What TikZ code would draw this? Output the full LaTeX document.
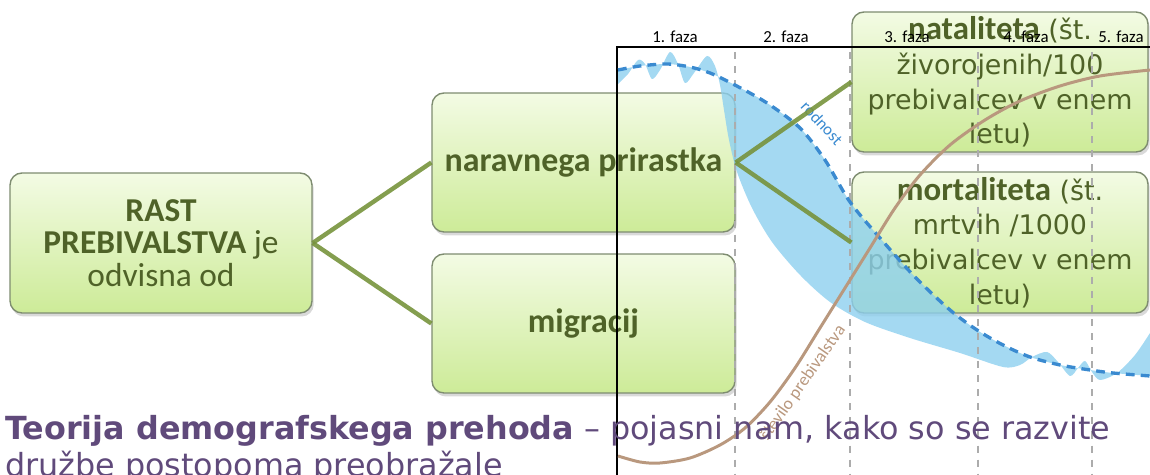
\documentclass[tikz,border=0pt]{standalone}
\usepackage{fontspec}
\setmainfont{Carlito}
\newfontfamily\dejavu{DejaVu Sans}
\usetikzlibrary{shadows}

\definecolor{okvir}{HTML}{7E8C70}
\definecolor{zelentekst}{HTML}{4F6228}
\definecolor{svetlazel}{HTML}{F3FBE4}
\definecolor{temnazel}{HTML}{CDEB98}
\definecolor{povezava}{HTML}{77933C}
\definecolor{modra}{HTML}{8DD0EF}
\definecolor{rodnostmodra}{HTML}{3A8AD0}
\definecolor{rjava}{HTML}{B9987E}
\definecolor{vijolicna}{HTML}{604A7B}

\tikzset{
  okvircek/.style={draw=okvir, line width=0.8pt, rounded corners=6.8pt,
    top color=svetlazel, bottom color=temnazel,
    drop shadow={shadow xshift=1pt, shadow yshift=-2pt, opacity=0.3},
    text=zelentekst, align=center, inner sep=0pt},
  povez/.style={povezava, line width=2.5pt, opacity=0.9},
  fazanapis/.style={font=\fontsize{9.6}{10}\selectfont, anchor=base, inner sep=0pt},
  mejafaze/.style={gray!65, line width=0.8pt, dash pattern=on 4pt off 4pt},
}

\begin{document}
\begin{tikzpicture}[x=0.02cm, y=-0.02cm]  % enota = 1 piksel, y navzdol

    \clip (0,0) rectangle (1150,475);

    % okvirčki
    \node[okvircek, minimum width=6.04cm, minimum height=2.8cm,
          font=\fontsize{19}{18.4}\selectfont] (rast) at (161,243)
          {\textbf{RAST}\\\textbf{PREBIVALSTVA} je\\odvisna od};
    \node[okvircek, minimum width=6.06cm, minimum height=2.78cm,
          font=\bfseries\fontsize{19.3}{22}\selectfont] (narav) at (583.5,162.5) {naravnega prirastka};
    \node[okvircek, minimum width=6.06cm, minimum height=2.78cm,
          font=\bfseries\fontsize{19.3}{22}\selectfont] (migr) at (583.5,323.5) {migracij};
    \node[okvircek, minimum width=5.92cm, minimum height=2.8cm,
          font=\dejavu\fontsize{15.3}{19.8}\selectfont] (natal) at (1000,82)
          {{\rmfamily\bfseries\fontsize{18.7}{19.8}\selectfont nataliteta} (št.\\živorojenih/100\\prebivalcev v enem\\letu)};
    \node[okvircek, minimum width=5.92cm, minimum height=2.82cm,
          font=\dejavu\fontsize{15.3}{19.8}\selectfont] (mort) at (1000,242.5)
          {{\rmfamily\bfseries\fontsize{18.7}{19.8}\selectfont mortaliteta} (št.\\mrtvih /1000\\prebivalcev v enem\\letu)};

    % modro območje med rodnostjo in smrtnostjo
    \fill[modra, opacity=0.8] plot[smooth] coordinates {(618,84) (628,74) (638,60) (645,64) (652,79)
        (660,70) (670,52) (678,64) (685,83) (694,73) (707,56) (715,66) (720,85) (724,110)
        (729,140) (737,172) (752,208) (772,242) (800,275) (830,302) (865,322) (910,338)
        (960,353) (1003,367) (1020,365) (1032,357) (1047,352) (1058,362) (1070,376)
        (1078,368) (1085,361) (1092,372) (1100,380) (1117,373) (1135,355) (1150,333)}
      -- (1160,333) -- (1160,376)
      -- plot[smooth] coordinates {(1150,376) (1113,373) (1090,370) (1060,365) (1030,357)
        (1003,345) (977,330) (950,310) (915,277) (880,238) (850,202) (825,160) (800,128)
        (767,103) (733,84) (710,73) (690,67) (667,64) (640,66) (618,70)} -- cycle;

    % meje faz
    \draw[mejafaze] (735,52) -- (735,480);
    \draw[mejafaze] (850,52) -- (850,480);
    \draw[mejafaze] (978,52) -- (978,480);
    \draw[mejafaze] (1092,52) -- (1092,480);

    % okvir grafa
    \draw[black, line width=0.6pt] (617,480) -- (617,47) -- (1160,47);

    % rodnost (črtkano)
    \draw[rodnostmodra, line width=1.9pt, dash pattern=on 5pt off 3.5pt] plot[smooth] coordinates {(618,70)
        (640,66) (667,64) (690,67) (710,73) (733,84) (767,103) (800,128) (825,160) (850,202)
        (880,238) (915,277) (950,310) (977,330) (1003,345) (1030,357) (1060,365) (1090,370)
        (1113,373) (1150,376)};

    % število prebivalstva
    \draw[rjava, line width=1.7pt] plot[smooth] coordinates {(618,456) (640,462) (660,463)
        (690,458) (720,445) (745,428) (770,402) (795,368) (820,328) (845,288) (870,248)
        (895,208) (920,175) (950,145) (985,120) (1020,101) (1060,86) (1100,76) (1150,70)};

    % napisa ob krivuljah
    \node[rodnostmodra, rotate=-47, font=\fontsize{9.5}{10}\selectfont, inner sep=0pt] (rodnost) at (822,123) {rodnost};
    \node[rjava, rotate=55, font=\fontsize{10}{11}\selectfont, inner sep=0pt] (stevilo) at (803,383) {število prebivalstva};

    % faze
    \node[fazanapis] (faza1) at (675,43) {1. faza};
    \node[fazanapis] (faza2) at (786,43) {2. faza};
    \node[fazanapis] (faza3) at (907,43) {3. faza};
    \node[fazanapis] (faza4) at (1026,43) {4. faza};
    \node[fazanapis] (faza5) at (1121,43) {5. faza};

    % povezave
    \draw[povez] (rast.east) -- (narav.west);
    \draw[povez] (rast.east) -- (migr.west);
    \draw[povez] (narav.east) -- (natal.west);
    \draw[povez] (narav.east) -- (mort.west);

    % besedilo spodaj
    \node[anchor=base west, inner sep=0pt, text=vijolicna, font=\dejavu\fontsize{18.1}{20.4}\selectfont] (vrstica1) at (5,440)
        {\textbf{Teorija demografskega prehoda} – pojasni nam, kako so se razvite};
    \node[anchor=base west, inner sep=0pt, text=vijolicna, font=\dejavu\fontsize{18.1}{20.4}\selectfont] (vrstica2) at (5,477)
        {družbe postopoma preobražale};

\end{tikzpicture}
\end{document}
